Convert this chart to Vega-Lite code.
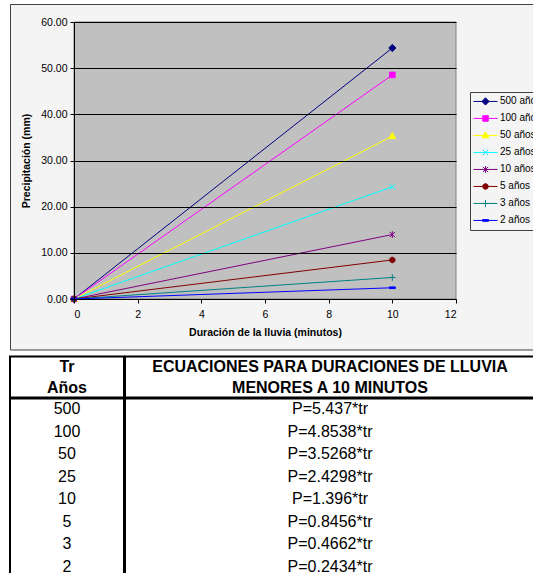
{
  "$schema": "https://vega.github.io/schema/vega-lite/v6.json",
  "background": "#ffffff",
  "padding": {"left": 9, "top": 4, "right": 0, "bottom": 0},
  "config": {
    "font": "Liberation Sans",
    "view": {"stroke": null},
    "axis": {
      "domainColor": "#000000",
      "tickColor": "#000000",
      "tickSize": 4,
      "labelFontSize": 10.5,
      "labelColor": "#000000",
      "titleFontSize": 10.5,
      "titleFontWeight": "bold",
      "titleColor": "#000000",
      "gridColor": "#000000",
      "gridOpacity": 1
    },
    "axisX": {"labelPadding": 6, "titlePadding": 8},
    "axisY": {"labelPadding": 3, "titlePadding": 9}
  },
  "datasets": {
    "lluvia": [
      {"serie": "500 años", "t": 0, "p": 0},
      {"serie": "500 años", "t": 10, "p": 54.37},
      {"serie": "100 años", "t": 0, "p": 0},
      {"serie": "100 años", "t": 10, "p": 48.538},
      {"serie": "50 años", "t": 0, "p": 0},
      {"serie": "50 años", "t": 10, "p": 35.268},
      {"serie": "25 años", "t": 0, "p": 0},
      {"serie": "25 años", "t": 10, "p": 24.298},
      {"serie": "10 años", "t": 0, "p": 0},
      {"serie": "10 años", "t": 10, "p": 13.96},
      {"serie": "5 años", "t": 0, "p": 0},
      {"serie": "5 años", "t": 10, "p": 8.456},
      {"serie": "3 años", "t": 0, "p": 0},
      {"serie": "3 años", "t": 10, "p": 4.662},
      {"serie": "2 años", "t": 0, "p": 0},
      {"serie": "2 años", "t": 10, "p": 2.434}
    ],
    "tabla": [
      {"tr": "500", "ec": "P=5.437*tr"},
      {"tr": "100", "ec": "P=4.8538*tr"},
      {"tr": "50", "ec": "P=3.5268*tr"},
      {"tr": "25", "ec": "P=2.4298*tr"},
      {"tr": "10", "ec": "P=1.396*tr"},
      {"tr": "5", "ec": "P=0.8456*tr"},
      {"tr": "3", "ec": "P=0.4662*tr"},
      {"tr": "2", "ec": "P=0.2434*tr"}
    ]
  },
  "spacing": 4.5,
  "vconcat": [
    {
      "spacing": -2,
      "hconcat": [
        {
          "width": 1,
          "height": 277,
          "data": {"values": []},
          "mark": {"type": "point", "opacity": 0},
          "encoding": {}
        },
        {
          "width": 382,
          "height": 277,
          "layer": [
            {
              "data": {"values": [{}]},
              "mark": {"type": "rect", "fill": "#f4f4f4", "stroke": "#404040", "strokeWidth": 1},
              "encoding": {
                "x": {"datum": -1.995, "type": "quantitative", "scale": {"domain": [0, 12], "nice": false, "zero": false}, "axis": {"title": "Duración de la lluvia (minutos)", "values": [0, 2, 4, 6, 8, 10, 12], "grid": false, "zindex": 1}},
                "x2": {"datum": 14.9},
                "y": {"datum": 63.79, "type": "quantitative", "scale": {"domain": [0, 60], "nice": false}, "axis": {"title": "Precipitación (mm)", "values": [0, 10, 20, 30, 40, 50, 60], "format": ".2f", "grid": true, "zindex": 1}},
                "y2": {"datum": -11.05}
              }
            },
            {
              "data": {"values": [{}]},
              "mark": {"type": "rect", "fill": "#c0c0c0", "stroke": "#808080", "strokeWidth": 1},
              "encoding": {
                "x": {"datum": 0, "type": "quantitative", "scale": {"domain": [0, 12], "nice": false, "zero": false}, "axis": {"title": "Duración de la lluvia (minutos)", "values": [0, 2, 4, 6, 8, 10, 12], "grid": false, "zindex": 1}},
                "x2": {"datum": 12},
                "y": {"datum": 0, "type": "quantitative", "scale": {"domain": [0, 60], "nice": false}, "axis": {"title": "Precipitación (mm)", "values": [0, 10, 20, 30, 40, 50, 60], "format": ".2f", "grid": true, "zindex": 1}},
                "y2": {"datum": 60}
              }
            },
            {
              "data": {"name": "lluvia"},
              "mark": {"type": "line", "strokeWidth": 1},
              "encoding": {
                "x": {"field": "t", "type": "quantitative", "scale": {"domain": [0, 12], "nice": false, "zero": false}, "axis": {"title": "Duración de la lluvia (minutos)", "values": [0, 2, 4, 6, 8, 10, 12], "grid": false, "zindex": 1}},
                "y": {"field": "p", "type": "quantitative", "scale": {"domain": [0, 60], "nice": false}, "axis": {"title": "Precipitación (mm)", "values": [0, 10, 20, 30, 40, 50, 60], "format": ".2f", "grid": true, "zindex": 1}},
                "color": {
                  "field": "serie",
                  "type": "nominal",
                  "scale": {
                    "domain": ["500 años", "100 años", "50 años", "25 años", "10 años", "5 años", "3 años", "2 años"],
                    "range": ["#000080", "#ff00ff", "#ffff00", "#00ffff", "#800080", "#800000", "#008080", "#0000ff"]
                  },
                  "legend": {
                    "title": null,
                    "orient": "none",
                    "legendX": 460,
                    "legendY": 70,
                    "symbolSize": 576,
                    "symbolOffset": 2,
                    "symbolStrokeWidth": 1,
                    "padding": 1,
                    "clipHeight": 16.9,
                    "rowPadding": 0,
                    "labelFontSize": 10,
                    "labelColor": "#000000",
                    "labelOffset": 2,
                    "strokeColor": "#404040",
                    "fillColor": "#f4f4f4",
                    "encode": {
                      "symbols": {
                        "update": {
                          "shape": {"signal": "'M-1,0H1' + ['M0,-0.3L0.3,0L0,0.3L-0.3,0Z', 'M-0.23,-0.23H0.23V0.23H-0.23Z', 'M0,-0.3L0.28,0.2H-0.28Z', 'M-0.22,-0.22L0.22,0.22M-0.22,0.22L0.22,-0.22', 'M-0.22,-0.22L0.22,0.22M-0.22,0.22L0.22,-0.22M0,-0.28V0.28', 'M-0.23,0A0.23,0.23,0,1,1,0.23,0A0.23,0.23,0,1,1,-0.23,0Z', 'M-0.28,0H0.28M0,-0.28V0.28', 'M-0.25,-0.07H0.25V0.07H-0.25Z'][datum.index]"},
                          "fill": {"signal": "['#000080', '#ff00ff', '#ffff00', '#00ffff', '#800080', '#800000', '#008080', '#0000ff'][datum.index]"},
                          "stroke": {"signal": "['#000080', '#ff00ff', '#ffff00', '#00ffff', '#800080', '#800000', '#008080', '#0000ff'][datum.index]"},
                          "strokeWidth": {"value": 1},
                          "opacity": {"value": 1}
                        }
                      }
                    }
                  }
                }
              }
            },
            {
              "data": {"name": "lluvia"},
              "mark": {"type": "point", "filled": true, "size": 576, "strokeWidth": 1, "opacity": 1},
              "encoding": {
                "x": {"field": "t", "type": "quantitative", "scale": {"domain": [0, 12], "nice": false, "zero": false}, "axis": {"title": "Duración de la lluvia (minutos)", "values": [0, 2, 4, 6, 8, 10, 12], "grid": false, "zindex": 1}},
                "y": {"field": "p", "type": "quantitative", "scale": {"domain": [0, 60], "nice": false}, "axis": {"title": "Precipitación (mm)", "values": [0, 10, 20, 30, 40, 50, 60], "format": ".2f", "grid": true, "zindex": 1}},
                "fill": {
                  "field": "serie",
                  "type": "nominal",
                  "scale": {
                    "domain": ["2 años", "3 años", "5 años", "10 años", "25 años", "50 años", "100 años", "500 años"],
                    "range": ["#0000ff", "#008080", "#800000", "#800080", "#00ffff", "#ffff00", "#ff00ff", "#000080"]
                  },
                  "legend": null
                },
                "stroke": {
                  "field": "serie",
                  "type": "nominal",
                  "scale": {
                    "domain": ["2 años", "3 años", "5 años", "10 años", "25 años", "50 años", "100 años", "500 años"],
                    "range": ["#0000ff", "#008080", "#800000", "#800080", "#00ffff", "#ffff00", "#ff00ff", "#000080"]
                  },
                  "legend": null
                },
                "shape": {
                  "field": "serie",
                  "type": "nominal",
                  "scale": {
                    "domain": ["2 años", "3 años", "5 años", "10 años", "25 años", "50 años", "100 años", "500 años"],
                    "range": ["M-0.25,-0.07H0.25V0.07H-0.25Z", "M-0.28,0H0.28M0,-0.28V0.28", "M-0.23,0A0.23,0.23,0,1,1,0.23,0A0.23,0.23,0,1,1,-0.23,0Z", "M-0.22,-0.22L0.22,0.22M-0.22,0.22L0.22,-0.22M0,-0.28V0.28", "M-0.22,-0.22L0.22,0.22M-0.22,0.22L0.22,-0.22", "M0,-0.3L0.28,0.2H-0.28Z", "M-0.23,-0.23H0.23V0.23H-0.23Z", "M0,-0.3L0.3,0L0,0.3L-0.3,0Z"]
                  },
                  "legend": null
                }
              }
            }
          ]
        }
      ]
    },
    {
      "spacing": -2,
      "vconcat": [
        {
          "spacing": -2,
          "hconcat": [
            {
              "width": 114,
              "height": 41,
              "view": {"stroke": "#000000", "strokeWidth": 2, "fill": "#ffffff"},
              "data": {"values": [{"h": "Tr\nAños"}]},
              "mark": {"type": "text", "fontSize": 16, "fontWeight": "bold", "lineBreak": "\n", "lineHeight": 21, "dy": -10, "color": "#000000"},
              "encoding": {"text": {"field": "h"}}
            },
            {
              "width": 410,
              "height": 41,
              "view": {"stroke": "#000000", "strokeWidth": 2, "fill": "#ffffff"},
              "data": {"values": [{"h": "ECUACIONES PARA DURACIONES DE LLUVIA\nMENORES A 10 MINUTOS"}]},
              "mark": {"type": "text", "fontSize": 16, "fontWeight": "bold", "lineBreak": "\n", "lineHeight": 21, "dy": -10, "color": "#000000"},
              "encoding": {"text": {"field": "h"}}
            }
          ]
        },
        {
          "spacing": -2,
          "hconcat": [
            {
              "width": 114,
              "height": 180,
              "view": {"stroke": "#000000", "strokeWidth": 2, "fill": "#ffffff"},
              "data": {"name": "tabla"},
              "mark": {"type": "text", "fontSize": 16, "color": "#000000"},
              "encoding": {
                "y": {"field": "tr", "type": "ordinal", "sort": null, "scale": {"type": "point", "paddingOuter": 0.667, "align": 0.469}, "axis": null},
                "text": {"field": "tr"}
              }
            },
            {
              "width": 410,
              "height": 180,
              "view": {"stroke": "#000000", "strokeWidth": 2, "fill": "#ffffff"},
              "data": {"name": "tabla"},
              "mark": {"type": "text", "fontSize": 16, "color": "#000000"},
              "encoding": {
                "y": {"field": "ec", "type": "ordinal", "sort": null, "scale": {"type": "point", "paddingOuter": 0.667, "align": 0.469}, "axis": null},
                "text": {"field": "ec"}
              }
            }
          ]
        }
      ]
    }
  ]
}
